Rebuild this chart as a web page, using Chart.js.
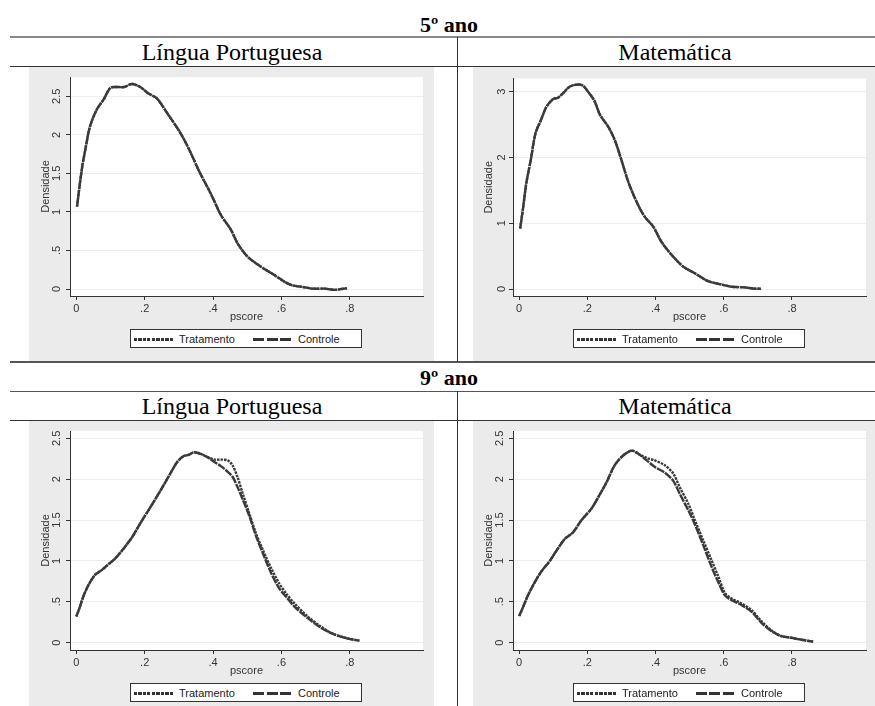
<!DOCTYPE html>
<html>
<head>
<meta charset="utf-8">
<script src="https://cdn.jsdelivr.net/npm/chart.js@4.4.0/dist/chart.umd.min.js"></script>
<style>
    body { margin: 0; width: 875px; height: 706px; overflow: hidden; background: #fff; position: relative;
           font-family: "Liberation Sans", Arial, sans-serif; }
    .line { position: absolute; background: #333; }
    .head { position: absolute; font-family: "Liberation Serif", "Times New Roman", serif; line-height: 1;
            text-align: center; white-space: nowrap; color: #000; }
    .year { font-size: 22px; font-weight: bold; }
    .subj { font-size: 24px; }
    .panel { position: absolute; background: #ebebeb; }
    canvas { position: absolute; }
    .legend { position: absolute; width: 232px; height: 19px; box-sizing: border-box; border: 1px solid #333;
              background: #fff; font-size: 11px; color: #222; }
    .legend span { position: absolute; top: 3px; }
    .legend i { position: absolute; top: 8px; width: 40px; height: 3px; }
    .dot { background: repeating-linear-gradient(90deg, #333 0 3px, transparent 3px 4.5px); }
    .dash { background: repeating-linear-gradient(90deg, #333 0 11px, transparent 11px 13.5px); }
</style>
</head>
<body>

<div class="line" style="left:10px;top:36px;width:865px;height:2px;background:#888"></div>
<div class="line" style="left:10px;top:66px;width:865px;height:1px"></div>
<div class="line" style="left:10px;top:361px;width:865px;height:2px;background:#555"></div>
<div class="line" style="left:10px;top:391px;width:865px;height:1px;background:#555"></div>
<div class="line" style="left:10px;top:420px;width:865px;height:1px"></div>
<div class="line" style="left:457px;top:37px;width:1px;height:325px"></div>
<div class="line" style="left:457px;top:391px;width:1px;height:315px"></div>

<div class="head year" style="left:349px;top:14px;width:200px">5º ano</div>
<div class="head year" style="left:349px;top:367px;width:200px">9º ano</div>
<div class="head subj" style="left:132px;top:40px;width:200px">Língua Portuguesa</div>
<div class="head subj" style="left:575px;top:40px;width:200px">Matemática</div>
<div class="head subj" style="left:132px;top:394px;width:200px">Língua Portuguesa</div>
<div class="head subj" style="left:575px;top:394px;width:200px">Matemática</div>

<div class="panel" style="left:29px;top:67px;width:405px;height:294px"></div>
<div class="panel" style="left:473px;top:67px;width:402px;height:294px"></div>
<div class="panel" style="left:29px;top:421px;width:405px;height:285px"></div>
<div class="panel" style="left:473px;top:421px;width:402px;height:285px"></div>

<canvas id="lp5" width="405" height="293" style="left:29px;top:67px"></canvas>
<canvas id="mat5" width="403" height="292" style="left:472px;top:68px"></canvas>
<canvas id="lp9" width="405" height="293" style="left:29px;top:421px"></canvas>
<canvas id="mat9" width="403" height="293" style="left:472px;top:421px"></canvas>

<script>
// tick labels
var xTicks = [0, 0.2, 0.4, 0.6, 0.8];
var yTicksLp5 = [0, 0.5, 1, 1.5, 2, 2.5];
var yTicksMat5 = [0, 1, 2, 3];
var yTicks9 = [0, 0.5, 1, 1.5, 2, 2.5];
var seriesNames = ['Tratamento', 'Controle'];

// 5º ano - Língua Portuguesa
var lp5X = [0.002, 0.016, 0.028, 0.04, 0.06, 0.08, 0.10, 0.12, 0.14, 0.163, 0.187, 0.21, 0.236, 0.266, 0.305, 0.33,
    0.359, 0.393, 0.423, 0.452, 0.472, 0.501, 0.54, 0.58, 0.609, 0.63, 0.658, 0.692, 0.727, 0.756, 0.775, 0.792];
var lp5Trat = [1.07, 1.55, 1.85, 2.11, 2.33, 2.46, 2.61, 2.62, 2.62, 2.66, 2.62, 2.54, 2.47, 2.28, 2.02, 1.81,
    1.53, 1.24, 0.96, 0.77, 0.59, 0.42, 0.29, 0.18, 0.095, 0.05, 0.03, 0.005, 0.005, -0.01, 0, 0.01];
var lp5Ctrl = [1.07, 1.55, 1.85, 2.11, 2.33, 2.46, 2.61, 2.62, 2.62, 2.66, 2.62, 2.54, 2.47, 2.28, 2.02, 1.81,
    1.53, 1.24, 0.96, 0.77, 0.59, 0.42, 0.29, 0.18, 0.095, 0.05, 0.03, 0.005, 0.005, -0.01, 0, 0.01];

// 5º ano - Matemática
var mat5X = [0.003, 0.012, 0.021, 0.034, 0.048, 0.064, 0.08, 0.10, 0.114, 0.129, 0.149, 0.173, 0.188, 0.202, 0.22,
    0.237, 0.261, 0.28, 0.30, 0.32, 0.344, 0.368, 0.393, 0.417, 0.447, 0.481, 0.515, 0.554, 0.593, 0.623, 0.662, 0.691, 0.709];
var mat5Trat = [0.92, 1.25, 1.61, 1.96, 2.37, 2.57, 2.77, 2.89, 2.91, 2.98, 3.08, 3.11, 3.09, 3.0, 2.87,
    2.65, 2.47, 2.27, 1.96, 1.63, 1.33, 1.10, 0.95, 0.72, 0.52, 0.34, 0.24, 0.12, 0.07, 0.035, 0.025, 0.005, 0.005];
var mat5Ctrl = [0.92, 1.25, 1.61, 1.96, 2.37, 2.57, 2.77, 2.89, 2.91, 2.98, 3.08, 3.11, 3.09, 3.0, 2.87,
    2.65, 2.47, 2.27, 1.96, 1.63, 1.33, 1.10, 0.95, 0.72, 0.52, 0.34, 0.24, 0.12, 0.07, 0.035, 0.025, 0.005, 0.005];

// 9º ano - Língua Portuguesa
var lp9X = [0, 0.009, 0.02, 0.035, 0.055, 0.075, 0.094, 0.114, 0.138, 0.163, 0.187, 0.217, 0.246, 0.275, 0.295,
    0.313, 0.33, 0.344, 0.364, 0.384, 0.404, 0.423, 0.443, 0.457, 0.472, 0.487, 0.506, 0.526, 0.546, 0.57, 0.594,
    0.614, 0.638, 0.677, 0.716, 0.755, 0.794, 0.828];
var lp9Trat = [0.32, 0.42, 0.56, 0.70, 0.83, 0.89, 0.96, 1.03, 1.15, 1.29, 1.46, 1.66, 1.86, 2.07, 2.21,
    2.28, 2.30, 2.33, 2.31, 2.27, 2.24, 2.24, 2.23, 2.17, 2.02, 1.82, 1.58, 1.33, 1.13, 0.91, 0.72,
    0.60, 0.48, 0.32, 0.195, 0.10, 0.053, 0.024];
var lp9Ctrl = [0.32, 0.42, 0.56, 0.70, 0.83, 0.89, 0.96, 1.03, 1.15, 1.29, 1.46, 1.66, 1.86, 2.07, 2.21,
    2.28, 2.30, 2.33, 2.31, 2.27, 2.21, 2.16, 2.09, 2.03, 1.90, 1.75, 1.55, 1.30, 1.09, 0.85, 0.66,
    0.56, 0.44, 0.30, 0.18, 0.10, 0.05, 0.024];

// 9º ano - Matemática
var mat9X = [0, 0.012, 0.026, 0.046, 0.065, 0.09, 0.11, 0.134, 0.158, 0.183, 0.212, 0.232, 0.256, 0.28, 0.305,
    0.33, 0.35, 0.374, 0.398, 0.427, 0.452, 0.471, 0.496, 0.515, 0.54, 0.564, 0.584, 0.603, 0.623, 0.652, 0.681,
    0.711, 0.74, 0.769, 0.798, 0.828, 0.862];
var mat9Trat = [0.325, 0.44, 0.58, 0.74, 0.87, 1.0, 1.13, 1.27, 1.35, 1.50, 1.64, 1.78, 1.96, 2.17, 2.29,
    2.35, 2.31, 2.26, 2.23, 2.17, 2.07, 1.90, 1.70, 1.50, 1.25, 1.01, 0.81, 0.61, 0.54, 0.48, 0.40,
    0.26, 0.15, 0.08, 0.06, 0.035, 0.013];
var mat9Ctrl = [0.325, 0.44, 0.58, 0.74, 0.87, 1.0, 1.13, 1.27, 1.35, 1.50, 1.64, 1.78, 1.96, 2.17, 2.29,
    2.35, 2.31, 2.23, 2.15, 2.08, 1.98, 1.82, 1.62, 1.45, 1.19, 0.93, 0.74, 0.58, 0.52, 0.46, 0.38,
    0.24, 0.14, 0.08, 0.06, 0.035, 0.013];

Chart.defaults.font.family = '"Liberation Sans", Arial, sans-serif';
Chart.defaults.font.size = 11;
Chart.defaults.color = '#333';

// Stata style labels: .5 instead of 0.5
function stataLabel(v) {
    return String(Math.round(v * 100) / 100).replace(/^0\./, '.');
}

function toPoints(xs, ys) {
    return xs.map(function(x, i) { return {x: x, y: ys[i]}; });
}

var whitePlot = {
    id: 'whitePlot',
    beforeDraw: function(chart) {
        var a = chart.chartArea;
        chart.ctx.save();
        chart.ctx.fillStyle = '#fff';
        chart.ctx.fillRect(a.left, a.top, a.right - a.left, a.bottom - a.top);
        chart.ctx.restore();
    }
};

function makePanel(id, xs, trat, ctrl, yTicks, yMin, yMax, xMin, xMax, rightPad, tickPad) {
    return new Chart(document.getElementById(id), {
        type: 'line',
        data: {
            datasets: [{
                label: seriesNames[1],
                data: toPoints(xs, ctrl),
                borderColor: '#3a3a3a',
                borderWidth: 2.4,
                borderDash: [8, 1],
                pointRadius: 0,
                tension: 0.3,
                fill: false
            }, {
                label: seriesNames[0],
                data: toPoints(xs, trat),
                borderColor: '#3a3a3a',
                borderWidth: 2.4,
                borderDash: [2.5, 1],
                pointRadius: 0,
                tension: 0.3,
                fill: false
            }]
        },
        options: {
            responsive: false,
            animation: false,
            layout: { padding: { top: 10, right: rightPad, left: 0, bottom: 0 } },
            plugins: { legend: { display: false }, tooltip: { enabled: false } },
            scales: {
                x: {
                    type: 'linear',
                    min: xMin,
                    max: xMax,
                    afterBuildTicks: function(s) { s.ticks = xTicks.map(function(v) { return {value: v}; }); },
                    afterFit: function(s) { s.height = 64; },
                    grid: { drawOnChartArea: false, tickLength: 4, tickColor: '#333' },
                    border: { color: '#333' },
                    ticks: { padding: 2, maxRotation: 0, callback: stataLabel },
                    title: { display: true, text: 'pscore', padding: { top: 0, bottom: 36 } }
                },
                y: {
                    type: 'linear',
                    min: yMin,
                    max: yMax,
                    afterBuildTicks: function(s) { s.ticks = yTicks.map(function(v) { return {value: v}; }); },
                    afterFit: function(s) { s.width = 41; },
                    grid: { color: '#ededed', tickLength: 4, tickColor: '#333' },
                    border: { color: '#333' },
                    ticks: { minRotation: 90, maxRotation: 90, crossAlign: 'center', padding: tickPad, callback: stataLabel },
                    title: { display: true, text: 'Densidade', padding: { top: 10, bottom: 0 } }
                }
            }
        },
        plugins: [whitePlot]
    });
}

makePanel('lp5', lp5X, lp5Trat, lp5Ctrl, yTicksLp5, -0.09, 2.75, -0.0185, 1.014, 11, 1);
makePanel('mat5', mat5X, mat5Trat, mat5Ctrl, yTicksMat5, -0.106, 3.2, -0.018, 1.017, 9, 4);
makePanel('lp9', lp9X, lp9Trat, lp9Ctrl, yTicks9, -0.09, 2.59, -0.0185, 1.014, 11, 1);
makePanel('mat9', mat9X, mat9Trat, mat9Ctrl, yTicks9, -0.09, 2.59, -0.018, 1.017, 9, 1);

// legends below each plot
[[130, 329], [573, 329], [130, 683], [573, 683]].forEach(function(p) {
    var d = document.createElement('div');
    d.className = 'legend';
    d.style.left = p[0] + 'px';
    d.style.top = p[1] + 'px';
    d.innerHTML = '<i class="dot" style="left:3px"></i><span style="left:48px">' + seriesNames[0] + '</span>' +
        '<i class="dash" style="left:122px"></i><span style="left:167px">' + seriesNames[1] + '</span>';
    document.body.appendChild(d);
});
</script>
</body>
</html>
